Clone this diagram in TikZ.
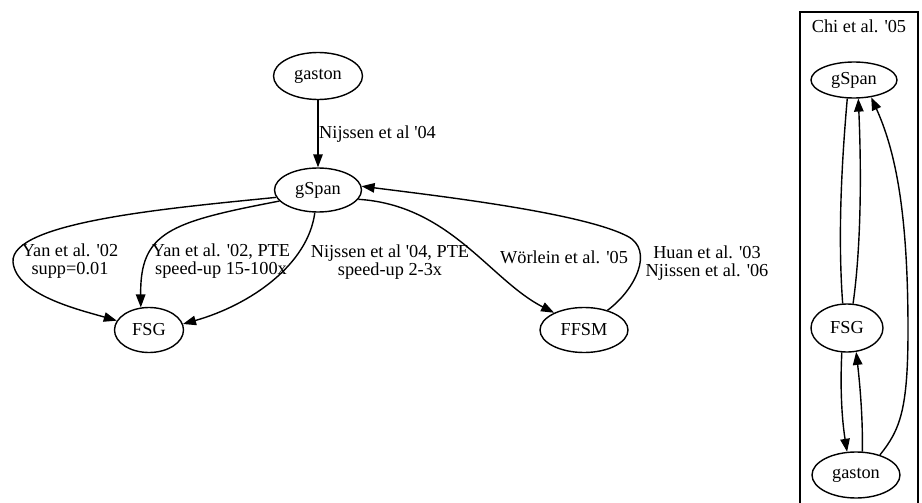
\documentclass[tikz,border=0pt]{standalone}
\usepackage{fontspec}
\setmainfont{Liberation Serif}
\usetikzlibrary{arrows.meta,shapes.geometric}
\begin{document}
\begin{tikzpicture}[x=1pt,y=-1pt,
  every node/.style={font=\fontsize{18.3}{18}\selectfont},
  nd/.style={draw,ellipse,line width=1.4pt,inner sep=0pt},
  lbl/.style={align=center,inner sep=0pt,anchor=base},
  arr/.style={line width=1.4pt,-{Triangle[length=13pt,width=9.5pt]}},
  plainedge/.style={line width=1.4pt}]
\useasboundingbox (0,0) rectangle (922,503);
\fill[white] (0,0) rectangle (922,503);
% main graph
\node[nd,minimum width=89pt,minimum height=47pt] (ga) at (318,76) {gaston};
\node[nd,minimum width=87pt,minimum height=44pt] (gs) at (318,190) {gSpan};
\node[nd,minimum width=69pt,minimum height=45pt] (fsg) at (149,330) {FSG};
\node[nd,minimum width=88pt,minimum height=45pt] (ffsm) at (584,330) {FFSM};
\draw[arr] (ga) -- (gs);
\node[lbl,anchor=base west] (l0) at (319,139) {Nijssen et al \textquotesingle04};
\draw[arr] (gs.190) .. controls (170,208) and (10,222) .. (13,262) .. controls (16,295) and (80,310) .. (fsg);
\draw[arr] (gs.196) .. controls (170,222) and (140,232) .. (fsg.110);
\draw[arr] (gs.262) .. controls (308,265) and (250,305) .. (fsg.10);
\draw[arr] (gs.347) .. controls (450,205) and (490,280) .. (ffsm.150);
\draw[arr] (ffsm.40) .. controls (635,290) and (655,250) .. (627,236) .. controls (580,212) and (430,195) .. (gs.5);
\node[lbl] (l1) at (70,274) {Yan et al. \textquotesingle02\\supp=0.01};
\node[lbl] (l2) at (221,274) {Yan et al. \textquotesingle02, PTE\\speed-up 15-100x};
\node[lbl] (l3) at (390,275) {Nijssen et al \textquotesingle04, PTE\\speed-up 2-3x};
\node[lbl] (l4) at (564,263) {Wörlein et al. \textquotesingle05};
\node[lbl] (l5) at (707,276) {Huan et al. \textquotesingle03\\Njissen et al. \textquotesingle06};
% cluster
\draw[line width=1.4pt] (800,12) rectangle (918,510);
\node[lbl] (ct) at (859,33) {Chi et al. \textquotesingle05};
\node[nd,minimum width=86pt,minimum height=36pt] (bgs) at (854,80) {gSpan};
\node[nd,minimum width=72pt,minimum height=48pt] (bfsg) at (847,328) {FSG};
\node[nd,minimum width=88pt,minimum height=46pt] (bga) at (856,475) {gaston};
\draw[plainedge] (bgs.250) .. controls (841,170) and (838,240) .. (bfsg.100);
\draw[arr] (bfsg.76) .. controls (862,240) and (861,160) .. (bgs.283);
\draw[arr] (bfsg.258) .. controls (840,390) and (842,420) .. (bga.111);
\draw[arr] (bga.75) .. controls (863,420) and (860,385) .. (bfsg.291);
\draw[arr] (bga.40) .. controls (900,430) and (908,410) .. (908,330) .. controls (908,210) and (895,150) .. (bgs.315);
\end{tikzpicture}
\end{document}
